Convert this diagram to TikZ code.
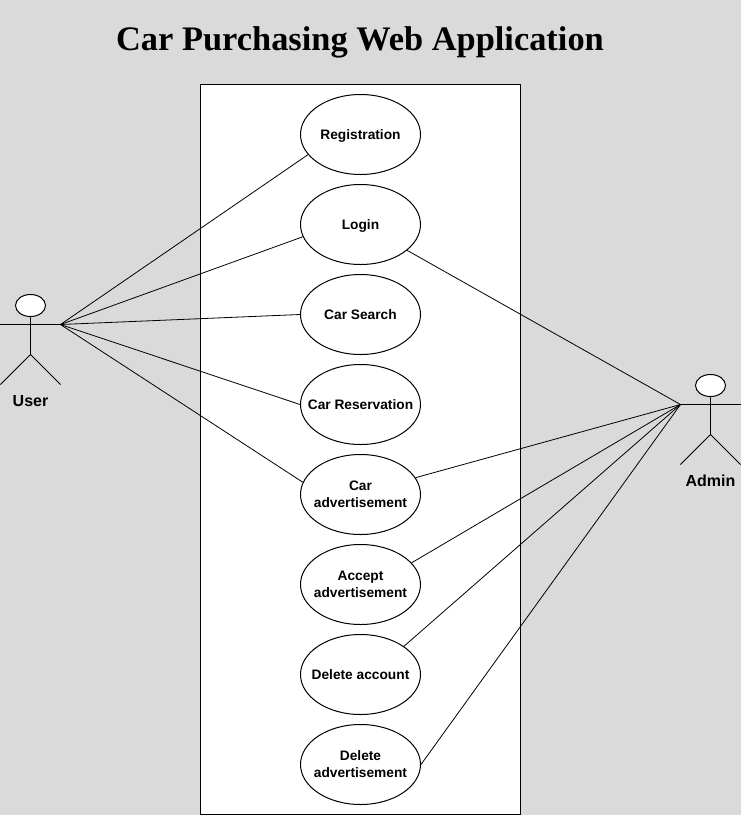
\documentclass[tikz,border=0pt]{standalone}
\usepackage{fontspec}
\setmainfont{Liberation Sans}
\newfontfamily\titlefont{Liberation Serif}
\usetikzlibrary{shapes.geometric}

\definecolor{backgrey}{RGB}{218,218,218}

\begin{document}
\begin{tikzpicture}[x=.75pt, y=-.75pt, line width=.75pt,
usecase/.style={ellipse, draw=black, fill=white, inner xsep=-10pt, inner ysep=0pt, text depth=0pt, minimum width=90pt, minimum height=60pt, align=center, font=\fontsize{10.3}{12.75}\selectfont\bfseries},
actorhead/.style={ellipse, draw=black, fill=white, inner sep=0pt, minimum width=22.5pt, minimum height=16.5pt},
actorname/.style={font=\fontsize{12}{14}\selectfont\bfseries},
assoc/.style={draw=black, line width=.6pt}]

%%%%%% BACKGROUND %%%%%%%%%%

\fill [backgrey] (0,0) rectangle (741,815);
\useasboundingbox (0,0) rectangle (741,815);

\node (title) [font=\titlefont\fontsize{25.8}{30}\selectfont\bfseries] at (360,42.5) {Car Purchasing Web Application};
\node (system) [draw=black, fill=white, inner sep=0pt, minimum width=240pt, minimum height=547.5pt] at (360.5,449.5) {};

%%%%%% USE CASES %%%%%%%%%%

\node (registration) [usecase] at (360.5,134.5) {Registration};
\node (login) [usecase] at (360.5,224.5) {Login};
\node (search) [usecase] at (360.5,314.5) {Car Search};
\node (reservation) [usecase] at (360.5,404.5) {Car Reservation};
\node (caradv) [usecase] at (360.5,494.5) {Car\\advertisement};
\node (acceptadv) [usecase] at (360.5,584.5) {Accept\\advertisement};
\node (delaccount) [usecase] at (360.5,674.5) {Delete account};
\node (deladv) [usecase] at (360.5,764.5) {Delete\\advertisement};

%%%%%% ACTORS %%%%%%%%%%

\node (userhead) [actorhead] at (30.5,305.5) {};
\coordinate (userhand) at (60.5,324.5);
\coordinate (userleft) at (.5,324.5);
\coordinate (userhip) at (30.5,354.5);
\draw (userhead) -- (userhip);
\draw (userleft) -- (userhand);
\draw (.5,384.5) -- (userhip) -- (60.5,384.5);
\node (username) [actorname] at (30.5,401.5) {User};

\node (adminhead) [actorhead] at (710.5,385.5) {};
\coordinate (adminhand) at (680.5,404.5);
\coordinate (adminright) at (740.5,404.5);
\coordinate (adminhip) at (710.5,434.5);
\draw (adminhead) -- (adminhip);
\draw (adminhand) -- (adminright);
\draw (680.5,464.5) -- (adminhip) -- (740.5,464.5);
\node (adminname) [actorname] at (710.5,480.5) {Admin};

%%%%%% ASSOCIATIONS %%%%%%%%%%

\foreach \i/\a in {registration/201, login/192, search/180, reservation/180, caradv/168}
{\draw [assoc] (userhand) -- (\i.\a);}

\foreach \i/\a in {login/-29, caradv/17, acceptadv/23, delaccount/33, deladv/0}
{\draw [assoc] (adminhand) -- (\i.\a);}

\end{tikzpicture}
\end{document}
